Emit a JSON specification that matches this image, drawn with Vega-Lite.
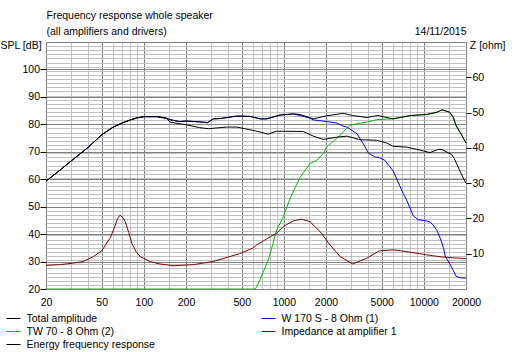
{
 "$schema": "https://vega.github.io/schema/vega-lite/v6.json",
 "width": 420,
 "height": 247,
 "autosize": {"type": "none"},
 "padding": {"left": 46, "top": 42, "right": 49, "bottom": 63},
 "background": "#ffffff",
 "config": {
  "view": {"stroke": "#808080", "strokeWidth": 1},
  "font": "Liberation Sans",
  "axis": {"labelFont": "Liberation Sans", "labelFontSize": 10.5, "labelColor": "#000000", "titleFont": "Liberation Sans", "titleFontSize": 10.5, "titleFontWeight": "normal", "titleColor": "#000000", "tickColor": "#000000", "domain": false, "labelFlush": false, "labelOverlap": false, "labelBound": false, "gridWidth": 1, "gridOpacity": 1}
 },
 "datasets": {
  "spl": [
   {"s": "W 170 S - 8 Ohm (1)", "f": 20, "v": 59.3}, {"s": "W 170 S - 8 Ohm (1)", "f": 25, "v": 63.2}, {"s": "W 170 S - 8 Ohm (1)", "f": 30, "v": 66.5}, {"s": "W 170 S - 8 Ohm (1)", "f": 40, "v": 71.6}, {"s": "W 170 S - 8 Ohm (1)", "f": 50, "v": 76.2}, {"s": "W 170 S - 8 Ohm (1)", "f": 60, "v": 78.9}, {"s": "W 170 S - 8 Ohm (1)", "f": 70, "v": 80.5}, {"s": "W 170 S - 8 Ohm (1)", "f": 80, "v": 81.6}, {"s": "W 170 S - 8 Ohm (1)", "f": 90, "v": 82.4}, {"s": "W 170 S - 8 Ohm (1)", "f": 100, "v": 82.8}, {"s": "W 170 S - 8 Ohm (1)", "f": 125, "v": 82.8}, {"s": "W 170 S - 8 Ohm (1)", "f": 145, "v": 82.2}, {"s": "W 170 S - 8 Ohm (1)", "f": 154, "v": 81.7}, {"s": "W 170 S - 8 Ohm (1)", "f": 180, "v": 81.0}, {"s": "W 170 S - 8 Ohm (1)", "f": 200, "v": 81.2}, {"s": "W 170 S - 8 Ohm (1)", "f": 265, "v": 80.8}, {"s": "W 170 S - 8 Ohm (1)", "f": 285, "v": 80.6}, {"s": "W 170 S - 8 Ohm (1)", "f": 313, "v": 82.0}, {"s": "W 170 S - 8 Ohm (1)", "f": 350, "v": 82.1}, {"s": "W 170 S - 8 Ohm (1)", "f": 460, "v": 83.0}, {"s": "W 170 S - 8 Ohm (1)", "f": 573, "v": 82.9}, {"s": "W 170 S - 8 Ohm (1)", "f": 676, "v": 82.0}, {"s": "W 170 S - 8 Ohm (1)", "f": 755, "v": 82.0}, {"s": "W 170 S - 8 Ohm (1)", "f": 940, "v": 83.4}, {"s": "W 170 S - 8 Ohm (1)", "f": 1170, "v": 83.8}, {"s": "W 170 S - 8 Ohm (1)", "f": 1300, "v": 83.2}, {"s": "W 170 S - 8 Ohm (1)", "f": 1530, "v": 82.3}, {"s": "W 170 S - 8 Ohm (1)", "f": 1624, "v": 81.6}, {"s": "W 170 S - 8 Ohm (1)", "f": 1910, "v": 81.2}, {"s": "W 170 S - 8 Ohm (1)", "f": 2140, "v": 80.8}, {"s": "W 170 S - 8 Ohm (1)", "f": 2380, "v": 80.5}, {"s": "W 170 S - 8 Ohm (1)", "f": 2660, "v": 79.3}, {"s": "W 170 S - 8 Ohm (1)", "f": 2820, "v": 79.0}, {"s": "W 170 S - 8 Ohm (1)", "f": 3330, "v": 76.6}, {"s": "W 170 S - 8 Ohm (1)", "f": 3680, "v": 73.0}, {"s": "W 170 S - 8 Ohm (1)", "f": 3900, "v": 70.8}, {"s": "W 170 S - 8 Ohm (1)", "f": 4020, "v": 69.5}, {"s": "W 170 S - 8 Ohm (1)", "f": 4480, "v": 68.1}, {"s": "W 170 S - 8 Ohm (1)", "f": 4800, "v": 67.9}, {"s": "W 170 S - 8 Ohm (1)", "f": 5260, "v": 66.9}, {"s": "W 170 S - 8 Ohm (1)", "f": 6040, "v": 63.0}, {"s": "W 170 S - 8 Ohm (1)", "f": 6780, "v": 57.2}, {"s": "W 170 S - 8 Ohm (1)", "f": 7120, "v": 54.8}, {"s": "W 170 S - 8 Ohm (1)", "f": 7530, "v": 52.4}, {"s": "W 170 S - 8 Ohm (1)", "f": 8400, "v": 46.7}, {"s": "W 170 S - 8 Ohm (1)", "f": 9110, "v": 45.2}, {"s": "W 170 S - 8 Ohm (1)", "f": 9900, "v": 45.0}, {"s": "W 170 S - 8 Ohm (1)", "f": 10500, "v": 44.8}, {"s": "W 170 S - 8 Ohm (1)", "f": 11060, "v": 44.4}, {"s": "W 170 S - 8 Ohm (1)", "f": 11660, "v": 43.3}, {"s": "W 170 S - 8 Ohm (1)", "f": 12400, "v": 41.3}, {"s": "W 170 S - 8 Ohm (1)", "f": 13100, "v": 38.5}, {"s": "W 170 S - 8 Ohm (1)", "f": 13800, "v": 35.0}, {"s": "W 170 S - 8 Ohm (1)", "f": 14200, "v": 32.0}, {"s": "W 170 S - 8 Ohm (1)", "f": 15300, "v": 29.2}, {"s": "W 170 S - 8 Ohm (1)", "f": 16200, "v": 26.8}, {"s": "W 170 S - 8 Ohm (1)", "f": 17000, "v": 24.6}, {"s": "W 170 S - 8 Ohm (1)", "f": 18200, "v": 24.1}, {"s": "W 170 S - 8 Ohm (1)", "f": 20000, "v": 24.0},
   {"s": "TW 70 - 8 Ohm (2)", "f": 20, "v": 20}, {"s": "TW 70 - 8 Ohm (2)", "f": 600, "v": 20}, {"s": "TW 70 - 8 Ohm (2)", "f": 625, "v": 20}, {"s": "TW 70 - 8 Ohm (2)", "f": 640, "v": 20.9}, {"s": "TW 70 - 8 Ohm (2)", "f": 676, "v": 23.4}, {"s": "TW 70 - 8 Ohm (2)", "f": 720, "v": 26.8}, {"s": "TW 70 - 8 Ohm (2)", "f": 775, "v": 30.6}, {"s": "TW 70 - 8 Ohm (2)", "f": 830, "v": 36.0}, {"s": "TW 70 - 8 Ohm (2)", "f": 888, "v": 41.5}, {"s": "TW 70 - 8 Ohm (2)", "f": 940, "v": 43.9}, {"s": "TW 70 - 8 Ohm (2)", "f": 990, "v": 46.3}, {"s": "TW 70 - 8 Ohm (2)", "f": 1108, "v": 53.0}, {"s": "TW 70 - 8 Ohm (2)", "f": 1300, "v": 60.5}, {"s": "TW 70 - 8 Ohm (2)", "f": 1534, "v": 65.7}, {"s": "TW 70 - 8 Ohm (2)", "f": 1720, "v": 66.9}, {"s": "TW 70 - 8 Ohm (2)", "f": 1910, "v": 69.3}, {"s": "TW 70 - 8 Ohm (2)", "f": 2020, "v": 71.7}, {"s": "TW 70 - 8 Ohm (2)", "f": 2520, "v": 76.0}, {"s": "TW 70 - 8 Ohm (2)", "f": 2960, "v": 79.6}, {"s": "TW 70 - 8 Ohm (2)", "f": 3400, "v": 80.3}, {"s": "TW 70 - 8 Ohm (2)", "f": 3900, "v": 80.8}, {"s": "TW 70 - 8 Ohm (2)", "f": 4600, "v": 81.7}, {"s": "TW 70 - 8 Ohm (2)", "f": 5400, "v": 81.9}, {"s": "TW 70 - 8 Ohm (2)", "f": 6040, "v": 82.0}, {"s": "TW 70 - 8 Ohm (2)", "f": 7120, "v": 82.7}, {"s": "TW 70 - 8 Ohm (2)", "f": 8000, "v": 83.2}, {"s": "TW 70 - 8 Ohm (2)", "f": 10500, "v": 83.6}, {"s": "TW 70 - 8 Ohm (2)", "f": 12400, "v": 84.4}, {"s": "TW 70 - 8 Ohm (2)", "f": 13500, "v": 85.3}, {"s": "TW 70 - 8 Ohm (2)", "f": 15300, "v": 84.4}, {"s": "TW 70 - 8 Ohm (2)", "f": 16200, "v": 82.6}, {"s": "TW 70 - 8 Ohm (2)", "f": 17000, "v": 79.5}, {"s": "TW 70 - 8 Ohm (2)", "f": 18200, "v": 77.0}, {"s": "TW 70 - 8 Ohm (2)", "f": 20000, "v": 73.2},
   {"s": "Energy frequency response", "f": 20, "v": 59.3}, {"s": "Energy frequency response", "f": 25, "v": 63.2}, {"s": "Energy frequency response", "f": 30, "v": 66.5}, {"s": "Energy frequency response", "f": 40, "v": 71.6}, {"s": "Energy frequency response", "f": 50, "v": 76.2}, {"s": "Energy frequency response", "f": 60, "v": 78.9}, {"s": "Energy frequency response", "f": 70, "v": 80.5}, {"s": "Energy frequency response", "f": 80, "v": 81.6}, {"s": "Energy frequency response", "f": 90, "v": 82.4}, {"s": "Energy frequency response", "f": 100, "v": 82.8}, {"s": "Energy frequency response", "f": 125, "v": 82.8}, {"s": "Energy frequency response", "f": 145, "v": 82.2}, {"s": "Energy frequency response", "f": 154, "v": 80.8}, {"s": "Energy frequency response", "f": 181, "v": 80.2}, {"s": "Energy frequency response", "f": 202, "v": 79.8}, {"s": "Energy frequency response", "f": 250, "v": 78.8}, {"s": "Energy frequency response", "f": 290, "v": 78.4}, {"s": "Energy frequency response", "f": 389, "v": 79.0}, {"s": "Energy frequency response", "f": 460, "v": 79.0}, {"s": "Energy frequency response", "f": 601, "v": 77.8}, {"s": "Energy frequency response", "f": 676, "v": 77.2}, {"s": "Energy frequency response", "f": 770, "v": 76.4}, {"s": "Energy frequency response", "f": 888, "v": 77.5}, {"s": "Energy frequency response", "f": 1374, "v": 77.4}, {"s": "Energy frequency response", "f": 1624, "v": 75.7}, {"s": "Energy frequency response", "f": 1910, "v": 74.5}, {"s": "Energy frequency response", "f": 2380, "v": 75.3}, {"s": "Energy frequency response", "f": 2820, "v": 75.7}, {"s": "Energy frequency response", "f": 3500, "v": 74.4}, {"s": "Energy frequency response", "f": 4600, "v": 74.2}, {"s": "Energy frequency response", "f": 5420, "v": 73.2}, {"s": "Energy frequency response", "f": 6040, "v": 72.0}, {"s": "Energy frequency response", "f": 7530, "v": 71.7}, {"s": "Energy frequency response", "f": 8900, "v": 70.9}, {"s": "Energy frequency response", "f": 11060, "v": 69.7}, {"s": "Energy frequency response", "f": 12700, "v": 70.9}, {"s": "Energy frequency response", "f": 13500, "v": 70.8}, {"s": "Energy frequency response", "f": 15800, "v": 69.0}, {"s": "Energy frequency response", "f": 16500, "v": 67.5}, {"s": "Energy frequency response", "f": 18200, "v": 62.7}, {"s": "Energy frequency response", "f": 20000, "v": 58.5},
   {"s": "Total amplitude", "f": 20, "v": 59.3}, {"s": "Total amplitude", "f": 25, "v": 63.2}, {"s": "Total amplitude", "f": 30, "v": 66.5}, {"s": "Total amplitude", "f": 40, "v": 71.6}, {"s": "Total amplitude", "f": 50, "v": 76.2}, {"s": "Total amplitude", "f": 60, "v": 78.9}, {"s": "Total amplitude", "f": 70, "v": 80.5}, {"s": "Total amplitude", "f": 80, "v": 81.6}, {"s": "Total amplitude", "f": 90, "v": 82.4}, {"s": "Total amplitude", "f": 100, "v": 82.8}, {"s": "Total amplitude", "f": 125, "v": 82.8}, {"s": "Total amplitude", "f": 145, "v": 82.2}, {"s": "Total amplitude", "f": 154, "v": 81.7}, {"s": "Total amplitude", "f": 180, "v": 81.0}, {"s": "Total amplitude", "f": 200, "v": 81.2}, {"s": "Total amplitude", "f": 265, "v": 80.8}, {"s": "Total amplitude", "f": 285, "v": 80.6}, {"s": "Total amplitude", "f": 313, "v": 82.0}, {"s": "Total amplitude", "f": 350, "v": 82.1}, {"s": "Total amplitude", "f": 460, "v": 83.0}, {"s": "Total amplitude", "f": 573, "v": 82.9}, {"s": "Total amplitude", "f": 676, "v": 82.0}, {"s": "Total amplitude", "f": 755, "v": 82.0}, {"s": "Total amplitude", "f": 940, "v": 83.4}, {"s": "Total amplitude", "f": 1170, "v": 83.8}, {"s": "Total amplitude", "f": 1300, "v": 83.6}, {"s": "Total amplitude", "f": 1624, "v": 82.0}, {"s": "Total amplitude", "f": 2020, "v": 83.1}, {"s": "Total amplitude", "f": 2660, "v": 84.0}, {"s": "Total amplitude", "f": 3100, "v": 83.2}, {"s": "Total amplitude", "f": 3900, "v": 82.5}, {"s": "Total amplitude", "f": 4700, "v": 83.2}, {"s": "Total amplitude", "f": 6040, "v": 82.0}, {"s": "Total amplitude", "f": 7120, "v": 82.7}, {"s": "Total amplitude", "f": 8000, "v": 83.2}, {"s": "Total amplitude", "f": 10500, "v": 83.6}, {"s": "Total amplitude", "f": 12400, "v": 84.4}, {"s": "Total amplitude", "f": 13500, "v": 85.3}, {"s": "Total amplitude", "f": 15300, "v": 84.4}, {"s": "Total amplitude", "f": 16200, "v": 82.6}, {"s": "Total amplitude", "f": 17000, "v": 79.5}, {"s": "Total amplitude", "f": 18200, "v": 77.0}, {"s": "Total amplitude", "f": 20000, "v": 73.2}
  ],
  "imp": [
   {"s": "Impedance at amplifier 1", "f": 20, "z": 6.7}, {"s": "Impedance at amplifier 1", "f": 25, "z": 6.9}, {"s": "Impedance at amplifier 1", "f": 31, "z": 7.3}, {"s": "Impedance at amplifier 1", "f": 37, "z": 7.8}, {"s": "Impedance at amplifier 1", "f": 43.6, "z": 9.2}, {"s": "Impedance at amplifier 1", "f": 50, "z": 10.8}, {"s": "Impedance at amplifier 1", "f": 57.5, "z": 14.5}, {"s": "Impedance at amplifier 1", "f": 62, "z": 17.7}, {"s": "Impedance at amplifier 1", "f": 65, "z": 20.0}, {"s": "Impedance at amplifier 1", "f": 67.5, "z": 20.9}, {"s": "Impedance at amplifier 1", "f": 70.5, "z": 20.3}, {"s": "Impedance at amplifier 1", "f": 73.6, "z": 19.1}, {"s": "Impedance at amplifier 1", "f": 78, "z": 16.0}, {"s": "Impedance at amplifier 1", "f": 82, "z": 13.0}, {"s": "Impedance at amplifier 1", "f": 88, "z": 10.6}, {"s": "Impedance at amplifier 1", "f": 94, "z": 9.2}, {"s": "Impedance at amplifier 1", "f": 110, "z": 7.8}, {"s": "Impedance at amplifier 1", "f": 130, "z": 7.1}, {"s": "Impedance at amplifier 1", "f": 162, "z": 6.6}, {"s": "Impedance at amplifier 1", "f": 226, "z": 6.9}, {"s": "Impedance at amplifier 1", "f": 313, "z": 7.8}, {"s": "Impedance at amplifier 1", "f": 412, "z": 9.2}, {"s": "Impedance at amplifier 1", "f": 482, "z": 10.0}, {"s": "Impedance at amplifier 1", "f": 601, "z": 11.6}, {"s": "Impedance at amplifier 1", "f": 640, "z": 12.5}, {"s": "Impedance at amplifier 1", "f": 755, "z": 14.2}, {"s": "Impedance at amplifier 1", "f": 888, "z": 15.8}, {"s": "Impedance at amplifier 1", "f": 990, "z": 17.7}, {"s": "Impedance at amplifier 1", "f": 1170, "z": 19.3}, {"s": "Impedance at amplifier 1", "f": 1330, "z": 19.8}, {"s": "Impedance at amplifier 1", "f": 1534, "z": 19.1}, {"s": "Impedance at amplifier 1", "f": 1810, "z": 16.3}, {"s": "Impedance at amplifier 1", "f": 2090, "z": 13.0}, {"s": "Impedance at amplifier 1", "f": 2520, "z": 9.2}, {"s": "Impedance at amplifier 1", "f": 3100, "z": 7.1}, {"s": "Impedance at amplifier 1", "f": 3900, "z": 8.7}, {"s": "Impedance at amplifier 1", "f": 4800, "z": 10.8}, {"s": "Impedance at amplifier 1", "f": 6040, "z": 11.1}, {"s": "Impedance at amplifier 1", "f": 7530, "z": 10.6}, {"s": "Impedance at amplifier 1", "f": 9350, "z": 10.0}, {"s": "Impedance at amplifier 1", "f": 11660, "z": 9.4}, {"s": "Impedance at amplifier 1", "f": 14000, "z": 9.0}, {"s": "Impedance at amplifier 1", "f": 20000, "z": 8.6}
  ]
 },
 "resolve": {"scale": {"y": "independent"}, "axis": {"x": "independent", "y": "independent"}},
 "layer": [
  {
   "data": {"name": "spl"},
   "mark": {"type": "line", "opacity": 0},
   "encoding": {
    "x": {"field": "f", "type": "quantitative", "scale": {"type": "log", "domain": [20, 20000], "nice": false},
     "axis": {"orient": "bottom", "values": [30, 40, 60, 70, 80, 90, 150, 300, 400, 600, 700, 800, 900, 1500, 3000, 4000, 6000, 7000, 8000, 9000, 15000], "grid": true, "gridColor": "#c0c0c0", "labels": false, "ticks": false, "title": null}},
    "y": {"field": "v", "type": "quantitative", "scale": {"domain": [20, 110], "nice": false, "zero": false},
     "axis": {"orient": "left", "values": [21.5, 23, 24.5, 26, 27.5, 29, 30.5, 32, 33.5, 35, 36.5, 38, 39.5, 41, 42.5, 44, 45.5, 47, 48.5, 50, 51.5, 53, 54.5, 56, 57.5, 59, 60.5, 62, 63.5, 65, 66.5, 68, 69.5, 71, 72.5, 74, 75.5, 77, 78.5, 80, 81.5, 83, 84.5, 86, 87.5, 89, 90.5, 92, 93.5, 95, 96.5, 98, 99.5, 101, 102.5, 104, 105.5, 107, 108.5], "grid": true, "gridColor": "#c0c0c0", "labels": false, "ticks": false, "title": null}}
   }
  },
  {
   "data": {"name": "spl"},
   "mark": {"type": "line", "opacity": 0},
   "encoding": {
    "x": {"field": "f", "type": "quantitative", "scale": {"type": "log", "domain": [20, 20000], "nice": false},
     "axis": {"orient": "bottom", "values": [20, 50, 100, 200, 500, 1000, 2000, 5000, 10000, 20000], "format": "d", "grid": true, "gridColor": "#808080", "ticks": false, "tickSize": 0, "labelPadding": 8, "title": null}},
    "y": {"field": "v", "type": "quantitative", "scale": {"domain": [20, 110], "nice": false, "zero": false},
     "axis": {"orient": "left", "values": [20, 30, 40, 50, 60, 70, 80, 90, 100], "format": "d", "grid": true, "gridColor": "#808080", "ticks": true, "tickSize": 6, "labelPadding": 0.5, "title": "SPL [dB]", "titleAngle": 0, "titleAlign": "left", "titleBaseline": "alphabetic", "titleX": -46, "titleY": 6}}
   }
  },
  {
   "data": {"name": "spl"},
   "mark": {"type": "line", "opacity": 0},
   "encoding": {
    "x": {"field": "f", "type": "quantitative", "scale": {"type": "log", "domain": [20, 20000], "nice": false},
     "axis": {"orient": "top", "grid": false, "labels": false, "ticks": false, "title": ["Frequency response whole speaker", "(all amplifiers and drivers)"], "titleAnchor": "start", "titleAlign": "left", "titleBaseline": "alphabetic", "titleX": 0, "titleY": -23.7, "titleLineHeight": 16}},
    "y": {"field": "v", "type": "quantitative", "scale": {"domain": [20, 110], "nice": false, "zero": false}, "axis": null}
   }
  },
  {
   "data": {"name": "spl"},
   "transform": [{"filter": "datum.s === 'W 170 S - 8 Ohm (1)'"}],
   "mark": {"type": "line", "strokeWidth": 1, "clip": true},
   "encoding": {
    "x": {"field": "f", "type": "quantitative", "scale": {"type": "log", "domain": [20, 20000], "nice": false},
     "axis": {"orient": "top", "grid": false, "labels": false, "ticks": false, "title": "14/11/2015", "titleAnchor": "end", "titleAlign": "right", "titleBaseline": "alphabetic", "titleX": 420, "titleY": -7.7}},
    "y": {"field": "v", "type": "quantitative", "scale": {"domain": [20, 110], "nice": false, "zero": false}, "axis": null},
    "color": {"field": "s", "type": "nominal",
     "scale": {"domain": ["Total amplitude", "W 170 S - 8 Ohm (1)", "TW 70 - 8 Ohm (2)", "Impedance at amplifier 1", "Energy frequency response"], "range": ["#000000", "#0000ff", "#00c000", "#800000", "#000000"]},
     "legend": {"orient": "none", "legendX": -40, "legendY": 269, "direction": "horizontal", "columns": 2, "columnPadding": 104, "rowPadding": -1, "symbolType": "stroke", "symbolSize": 196, "symbolStrokeWidth": 1, "labelFont": "Liberation Sans", "labelFontSize": 10.5, "labelColor": "#000000", "labelOffset": 5.5, "title": null, "padding": 0}}
   }
  },
  {
   "data": {"name": "spl"},
   "transform": [{"filter": "datum.s === 'TW 70 - 8 Ohm (2)'"}],
   "mark": {"type": "line", "strokeWidth": 1, "clip": true},
   "encoding": {
    "x": {"field": "f", "type": "quantitative", "scale": {"type": "log", "domain": [20, 20000], "nice": false}, "axis": null},
    "y": {"field": "v", "type": "quantitative", "scale": {"domain": [20, 110], "nice": false, "zero": false}, "axis": null},
    "color": {"field": "s", "type": "nominal"}
   }
  },
  {
   "data": {"name": "imp"},
   "mark": {"type": "line", "strokeWidth": 1, "clip": true},
   "encoding": {
    "x": {"field": "f", "type": "quantitative", "scale": {"type": "log", "domain": [20, 20000], "nice": false}, "axis": null},
    "y": {"field": "z", "type": "quantitative", "scale": {"domain": [0, 70], "nice": false},
     "axis": {"orient": "right", "values": [10, 20, 30, 40, 50, 60], "format": "d", "grid": false, "ticks": true, "tickSize": 5, "labelPadding": 1, "title": "Z [ohm]", "titleAngle": 0, "titleAlign": "left", "titleBaseline": "alphabetic", "titleX": 3.3, "titleY": 6}},
    "color": {"field": "s", "type": "nominal"}
   }
  },
  {
   "data": {"name": "spl"},
   "transform": [{"filter": "datum.s === 'Energy frequency response'"}],
   "mark": {"type": "line", "strokeWidth": 1, "clip": true},
   "encoding": {
    "x": {"field": "f", "type": "quantitative", "scale": {"type": "log", "domain": [20, 20000], "nice": false}, "axis": null},
    "y": {"field": "v", "type": "quantitative", "scale": {"domain": [20, 110], "nice": false, "zero": false}, "axis": null},
    "color": {"field": "s", "type": "nominal"}
   }
  },
  {
   "data": {"name": "spl"},
   "transform": [{"filter": "datum.s === 'Total amplitude'"}],
   "mark": {"type": "line", "strokeWidth": 1, "clip": true},
   "encoding": {
    "x": {"field": "f", "type": "quantitative", "scale": {"type": "log", "domain": [20, 20000], "nice": false}, "axis": null},
    "y": {"field": "v", "type": "quantitative", "scale": {"domain": [20, 110], "nice": false, "zero": false}, "axis": null},
    "color": {"field": "s", "type": "nominal"}
   }
  }
 ]
}
